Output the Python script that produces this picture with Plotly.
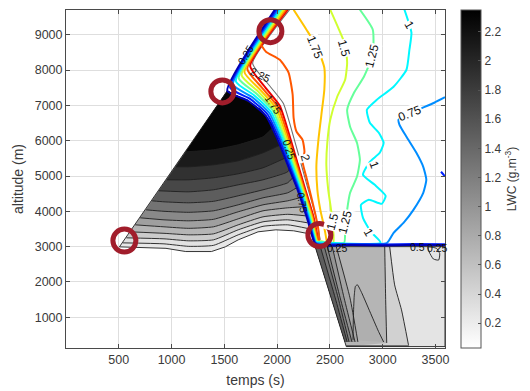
import plotly.graph_objects as go

# ---------------------------------------------------------------- axes / scales
T_RANGE = [0, 3590]            # temps (s)
Z_RANGE = [130, 9700]          # altitude (m)
T_TICKS = [500, 1000, 1500, 2000, 2500, 3000, 3500]
Z_TICKS = [1000, 2000, 3000, 4000, 5000, 6000, 7000, 8000, 9000]
LWC_MIN, LWC_MAX = 0.03, 2.35
LWC_TICKS = [0.2, 0.4, 0.6, 0.8, 1.0, 1.2, 1.4, 1.6, 1.8, 2.0, 2.2]
LWC_TICKTEXT = ["0.2", "0.4", "0.6", "0.8", "1", "1.2", "1.4", "1.6", "1.8", "2", "2.2"]
JET_MIN, JET_MAX = 0.125, 2.5

# ---------------------------------------------------------------- LWC : ascent wedge
wedge_bottom_t = [506, 694, 947, 1134, 1378, 1509, 1631, 1819, 1988, 2156, 2306]
wedge_bottom_z = [2994, 2980, 2952, 2861, 2861, 2994, 3192, 3419, 3476, 3448, 3362]
# right-hand edge, from the bottom up to the apex
wedge_edge_t = [2325, 2316, 2269, 2194, 2128, 2072, 2006, 1941, 1847, 1697, 1528]
wedge_edge_z = [3391, 3476, 4042, 4609, 5091, 5544, 6025, 6507, 6875, 7158, 7413]

wedge_levels = [0.2, 0.4, 0.6, 0.8, 1.0, 1.2, 1.4, 1.6, 1.8, 2.0, 2.2]
wedge_iso_t = [
    [538, 928, 1163, 1397, 1631, 1866, 2100, 2306],
    [572, 928, 1163, 1397, 1631, 1866, 2100, 2288],
    [609, 928, 1163, 1397, 1631, 1866, 2100, 2269],
    [656, 928, 1163, 1397, 1631, 1866, 2100, 2241],
    [703, 928, 1163, 1397, 1631, 1866, 2100, 2213],
    [759, 928, 1163, 1397, 1631, 1866, 2100, 2184],
    [816, 928, 1163, 1397, 1631, 1866, 2100, 2147],
    [881, 1163, 1397, 1631, 1866, 2100, 2119],
    [956, 1163, 1397, 1631, 1866, 2081],
    [1041, 1163, 1397, 1631, 1866, 2034],
    [1134, 1397, 1631, 1866, 1969],
]
wedge_iso_z = [
    [3107, 3079, 3008, 3036, 3334, 3575, 3617, 3504],
    [3249, 3221, 3164, 3192, 3476, 3703, 3759, 3674],
    [3419, 3377, 3334, 3362, 3617, 3844, 3915, 3872],
    [3617, 3561, 3518, 3561, 3787, 4014, 4099, 4127],
    [3816, 3759, 3731, 3773, 3986, 4184, 4297, 4382],
    [4042, 4000, 3972, 4014, 4184, 4382, 4524, 4666],
    [4297, 4269, 4241, 4283, 4439, 4609, 4807, 4949],
    [4581, 4552, 4609, 4750, 4892, 5119, 5232],
    [4892, 4892, 4949, 5062, 5232, 5515],
    [5260, 5260, 5317, 5430, 5657, 5884],
    [5685, 5742, 5884, 6110, 6394],
]

# ---------------------------------------------------------------- LWC : lower region
low_outline_t = [2360, 3590, 3590, 2655]
low_outline_z = [3000, 3000, 170, 170]
low_base_value = 0.28
# bands hugging the slanted left edge (darkest first)
low_band_values = [1.5, 1.3, 1.15, 1.0, 0.85]
low_band_t = [
    [2409, 2550, 2663],
    [2447, 2578, 2681],
    [2475, 2597, 2709],
    [2522, 2634, 2738],
    [2560, 2690, 2765],
]
low_band_z = [
    [3000, 1549, 302],
    [3000, 1549, 302],
    [3000, 1549, 302],
    [3000, 1549, 302],
    [3000, 1549, 302],
]
low_mid_value = 0.7
low_mid_t = [3019, 3028, 3038]
low_mid_z = [3000, 1500, 274]
low_light_value = 0.45
low_light_t = [3066, 3113, 3178, 3244]
low_light_z = [3000, 1917, 1209, 218]
tongue_value = 0.76
tongue_t = [2719, 2722, 2730, 2742, 2760, 2800, 2880, 2960, 3009]
tongue_z = [360, 1000, 1600, 1880, 1920, 1700, 1150, 600, 300]
loop_t = [3430, 3440, 3480, 3530, 3540, 3510, 3430]
loop_z = [2990, 2850, 2650, 2620, 2800, 2950, 2990]
floor_t = [2655, 3250]
floor_z = [190, 190]

# ---------------------------------------------------------------- coloured iso-lines
iso_025_t = [1978, 1528, 1725, 1894, 2006, 2100, 2194, 2288, 2353, 2385, 2700, 3000, 3300, 3590]
iso_025_z = [9708, 7413, 7130, 6705, 6025, 5317, 4609, 3759, 3107, 3035, 3045, 3035, 3050, 3045]

iso_050_t = [1993, 1555, 1744, 1910, 2019, 2111, 2202, 2295, 2358, 2390, 2700, 3000, 3300, 3590]
iso_050_z = [9708, 7502, 7183, 6741, 6050, 5335, 4620, 3770, 3114, 3062, 3070, 3060, 3075, 3068]

iso_075_t = [2009, 1582, 1763, 1927, 2032, 2121, 2210, 2302, 2363, 2400, 3038, 3103, 3197, 3291,
             3384, 3413, 3384, 3319, 3225, 3159, 3150, 3263, 3488, 3590]
iso_075_z = [9708, 7590, 7236, 6776, 6075, 5353, 4630, 3780, 3121, 3090, 3100, 3391, 3674, 4042,
             4524, 4892, 5260, 5657, 6110, 6450, 6592, 6780, 7074, 7230]

iso_100_t = [2024, 1609, 1781, 1943, 2045, 2132, 2218, 2309, 2367, 2410, 2981, 2888, 2813, 2794,
             2869, 2991, 3028, 2925, 2813, 2878, 2972, 3009, 2963, 2878, 2850, 2944, 3103, 3225,
             3253, 3272, 3206]
iso_100_z = [9708, 7679, 7289, 6812, 6100, 5370, 4641, 3791, 3128, 3115, 3110, 3419, 3816, 4184,
             4326, 4212, 4439, 4750, 5034, 5402, 5657, 5940, 6224, 6507, 6875, 7158, 7527, 8008,
             8575, 9057, 9708]

iso_125_t = [2039, 1636, 1800, 1960, 2058, 2142, 2227, 2316, 2372, 2415, 2634, 2644, 2663, 2691,
             2756, 2784, 2756, 2691, 2663, 2728, 2822, 2906, 2906, 2784]
iso_125_z = [9708, 7768, 7343, 6847, 6125, 5388, 4652, 3802, 3136, 3135, 3107, 3532, 4042, 4524,
             4977, 5459, 5940, 6394, 6875, 7357, 7810, 8433, 9142, 9708]

iso_150_t = [2054, 1663, 1819, 1976, 2070, 2153, 2235, 2323, 2377, 2420, 2531, 2513, 2484, 2466,
             2475, 2503, 2569, 2644, 2663, 2644, 2578, 2503]
iso_150_z = [9708, 7856, 7396, 6883, 6149, 5406, 4662, 3812, 3143, 3150, 3107, 3986, 4609, 5317,
             5940, 6592, 7244, 7725, 8207, 8717, 9198, 9708]

iso_175_t = [2070, 1690, 1838, 1992, 2083, 2163, 2243, 2330, 2382, 2466, 2447, 2409, 2381, 2372,
             2391, 2419, 2447, 2447, 2381, 2278, 2156]
iso_175_z = [9708, 7945, 7449, 6918, 6174, 5424, 4673, 3823, 3150, 3107, 3532, 4042, 4609, 5317,
             6025, 6733, 7442, 8065, 8632, 9142, 9708]

iso_200_t = [2085, 1717, 1856, 2009, 2096, 2174, 2251, 2337, 2386]
iso_200_z = [9708, 8033, 7502, 6954, 6199, 5441, 4683, 3833, 3157]
iso_200_loop_t = [1850, 1894, 2025, 2109, 2147, 2156, 2184, 2241, 2259, 2241, 2278, 2325, 2363,
                  2391, 2400]
iso_200_loop_z = [8700, 8518, 8292, 7923, 7300, 6649, 6252, 6025, 5685, 5402, 4949, 4382, 3901,
                  3476, 3107]

iso_225_t = [2100, 1744, 1875, 2025, 2109, 2184, 2259, 2344, 2391]
iso_225_z = [9708, 8122, 7555, 6989, 6224, 5459, 4694, 3844, 3164]

iso_050_edge_t = [3552, 3590]
iso_050_edge_z = [5120, 4990]

# thin dark iso-line running just outside the coloured bundle
rim_t = [2118, 1768, 1905, 2058, 2140, 2213, 2285, 2366, 2408]
rim_z = [9708, 8190, 7640, 7060, 6270, 5490, 4715, 3860, 3190]

# contour labels (text, t, z, angle); the open-air ones blank out the line beneath
open_label_text = ["1.75", "1.5", "1.25", "1", "0.75", "1", "2", "1.5", "1.25", "1"]
open_label_t = [2363, 2634, 2897, 3253, 3263, 2916, 2269, 2522, 2644, 2869]
open_label_z = [8632, 8632, 8400, 9283, 6780, 5300, 5515, 3702, 3702, 3391]
open_label_angle = [68, 75, -75, 60, -22, 70, 75, -75, -75, 60]

band_label_text = ["2.25", "0.25", "1.75", "0.25", "0.75", "0.25", "0.5", "0.25"]
band_label_t = [1847, 1697, 1969, 2119, 2241, 2569, 3330, 3520]
band_label_z = [7867, 8433, 7017, 5742, 4240, 2975, 2985, 2975]
band_label_angle = [25, -58, 55, 72, 80, 0, 0, 0]

# highlighted points of the trajectory
mark_t = [553, 1481, 1936, 2400]
mark_z = [3172, 7394, 9100, 3330]

FONT = "Liberation Sans, Arial, Helvetica, sans-serif"
TEXT = "#3a3a3a"


def gray(v):
    g = round(255 * (1 - (v - LWC_MIN) / (LWC_MAX - LWC_MIN)))
    g = max(0, min(255, g))
    return f"rgb({g},{g},{g})"


def jet(v):
    t = (v - JET_MIN) / (JET_MAX - JET_MIN)
    c = lambda d: max(0.0, min(1.0, 1.5 - abs(4 * t - d)))
    return f"rgb({round(255 * c(3))},{round(255 * c(2))},{round(255 * c(1))})"


fig = go.Figure()


def poly(ts, zs, value):
    fig.add_trace(go.Scatter(x=ts, y=zs, fill="toself", fillcolor=gray(value), mode="lines",
                             line=dict(width=0), hoverinfo="skip", showlegend=False))


def iso(ts, zs, color="#1e1e1e", width=0.9, shape="linear"):
    fig.add_trace(go.Scatter(x=ts, y=zs, mode="lines",
                             line=dict(color=color, width=width, shape=shape, smoothing=0.5),
                             hoverinfo="skip", showlegend=False))


# --- ascent wedge: whole outline, then nested regions above each iso-line
tip_t, tip_z = wedge_bottom_t[0], wedge_bottom_z[0]
poly(wedge_bottom_t + wedge_edge_t + [tip_t], wedge_bottom_z + wedge_edge_z + [tip_z], 0.25)
for lev, ts, zs in zip(wedge_levels, wedge_iso_t, wedge_iso_z):
    top_t = [t for t, z in zip(wedge_edge_t, wedge_edge_z) if z > zs[-1]]
    top_z = [z for z in wedge_edge_z if z > zs[-1]]
    poly(ts + top_t + [ts[0]], zs + top_z + [zs[0]], lev + 0.1)
iso(wedge_bottom_t + wedge_edge_t + [tip_t], wedge_bottom_z + wedge_edge_z + [tip_z])
for ts, zs in zip(wedge_iso_t, wedge_iso_z):
    iso(ts, zs, shape="spline")

# --- lower region
lt0, lz0 = low_outline_t[0], low_outline_z[0]
poly(low_outline_t + [lt0], low_outline_z + [lz0], low_base_value)
poly(low_light_t + [2655, 2360], low_light_z + [170, 3000], low_light_value)
poly(low_mid_t + [2655, 2360], low_mid_z + [170, 3000], low_mid_value)
poly(tongue_t, tongue_z, tongue_value)
for val, ts, zs in zip(low_band_values[::-1], low_band_t[::-1], low_band_z[::-1]):
    poly(ts + [2641, 2360], zs + [302, 3000], val)
iso(low_outline_t + [lt0], low_outline_z + [lz0])
for ts, zs in [(low_light_t, low_light_z), (low_mid_t, low_mid_z), (tongue_t, tongue_z),
               (loop_t, loop_z), (floor_t, floor_z)] + list(zip(low_band_t, low_band_z)):
    iso(ts, zs, shape="spline")

# --- coloured iso-lines (outermost level drawn first)
iso(rim_t, rim_z, color="#6e6e6e", width=1.1, shape="spline")
iso_paths = [
    (0.25, iso_025_t, iso_025_z), (0.5, iso_050_t, iso_050_z), (0.75, iso_075_t, iso_075_z),
    (1.0, iso_100_t, iso_100_z), (1.25, iso_125_t, iso_125_z), (1.5, iso_150_t, iso_150_z),
    (1.75, iso_175_t, iso_175_z), (2.0, iso_200_t, iso_200_z),
    (2.0, iso_200_loop_t, iso_200_loop_z), (2.25, iso_225_t, iso_225_z),
    (0.5, iso_050_edge_t, iso_050_edge_z),
]
for lev, ts, zs in iso_paths[::-1]:
    iso(ts, zs, color=jet(lev), width=2, shape="spline")

# --- contour labels
for txt, t, z, a in zip(open_label_text, open_label_t, open_label_z, open_label_angle):
    fig.add_annotation(x=t, y=z, text=txt, textangle=a, showarrow=False, bgcolor="white",
                       borderpad=0, font=dict(family=FONT, size=12, color="#111"))
for txt, t, z, a in zip(band_label_text, band_label_t, band_label_z, band_label_angle):
    fig.add_annotation(x=t, y=z, text=txt, textangle=a, showarrow=False,
                       font=dict(family=FONT, size=10.5, color="#111"))

# --- highlighted points
fig.add_trace(go.Scatter(x=mark_t, y=mark_z, mode="markers", hoverinfo="skip", showlegend=False,
                         marker=dict(symbol="circle-open", size=23, color="#a11d2b",
                                     line=dict(width=5, color="#a11d2b"))))

# --- LWC colour bar
fig.add_trace(go.Scatter(
    x=[-5000], y=[-5000], mode="markers", hoverinfo="skip", showlegend=False,
    marker=dict(color=[LWC_MIN], colorscale=[[0, "white"], [1, "black"]], cmin=LWC_MIN,
                cmax=LWC_MAX, showscale=True,
                colorbar=dict(x=1.042, xanchor="left", xpad=0, y=0.5, yanchor="middle", ypad=0,
                              len=1.0, thickness=20, outlinewidth=1, outlinecolor="#555",
                              tickvals=LWC_TICKS, ticktext=LWC_TICKTEXT, ticks="inside",
                              ticklen=3, tickcolor="#555",
                              tickfont=dict(family=FONT, size=12, color=TEXT),
                              title=dict(text="LWC (g.m<sup>-3</sup>)", side="right",
                                         font=dict(family=FONT, size=12, color=TEXT))))))

axis_style = dict(showgrid=True, gridcolor="#dedede", gridwidth=1, showline=True,
                  linecolor="#4a4a4a", linewidth=1, mirror="ticks", ticks="inside", ticklen=4,
                  tickcolor="#4a4a4a", zeroline=False, automargin=False,
                  tickfont=dict(family=FONT, size=12.5, color=TEXT))

fig.update_layout(
    width=530, height=391, margin=dict(l=66, r=82, t=10, b=43),
    paper_bgcolor="white", plot_bgcolor="white",
    xaxis=dict(range=T_RANGE, tickvals=T_TICKS, **axis_style,
               title=dict(text="temps (s)", standoff=9,
                          font=dict(family=FONT, size=14, color=TEXT))),
    yaxis=dict(range=Z_RANGE, tickvals=Z_TICKS, **axis_style,
               title=dict(text="altitude (m)", standoff=7,
                          font=dict(family=FONT, size=14, color=TEXT))),
)

fig.write_html("out.html")
